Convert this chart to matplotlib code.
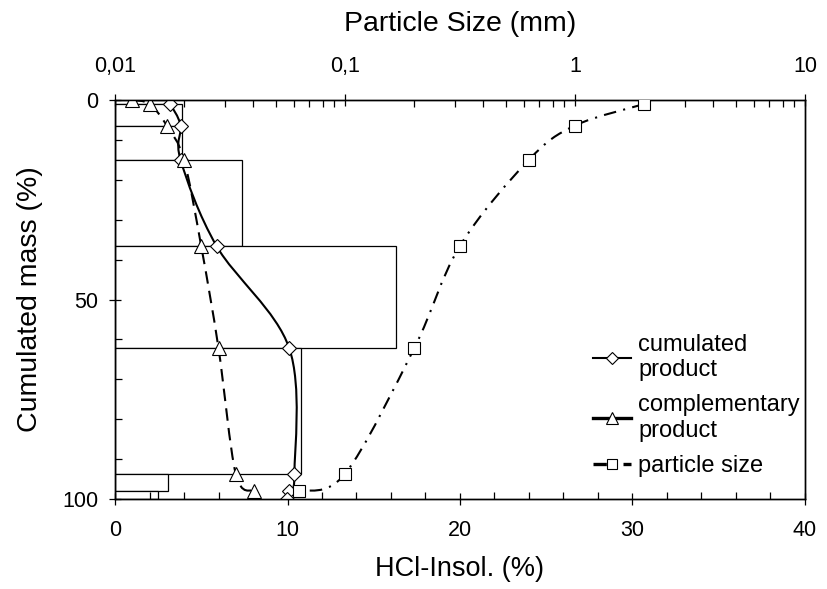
import matplotlib
matplotlib.use("Agg")
import matplotlib.pyplot as plt
import numpy as np
from matplotlib.path import Path
from matplotlib.patches import PathPatch, Rectangle
from matplotlib.lines import Line2D
from matplotlib.ticker import FixedLocator, MultipleLocator, NullFormatter

plt.rcParams['font.family'] = ['Liberation Sans', 'DejaVu Sans']

# fraction boundaries (cumulated mass, %)
bar_top = [0, 1.0, 6.4, 15.0, 36.7, 62.2, 93.7, 98.0]
bar_bottom = [1.0, 6.4, 15.0, 36.7, 62.2, 93.7, 98.0, 100]
bar_insol = [3.2, 3.9, 3.9, 7.35, 16.3, 10.8, 3.07, 2.5]

# cumulated product (diamonds)
cum_mass = [1.0, 6.4, 15.0, 36.7, 62.2, 93.7, 98.0, 100]
cum_insol = [3.2, 3.8, 3.8, 5.9, 10.1, 10.4, 10.1, 9.95]

# complementary product (triangles)
comp_mass = [0, 1.0, 6.4, 15.0, 36.7, 62.2, 93.7, 98.0]
comp_insol = [1.0, 2.0, 3.0, 4.0, 5.0, 6.0, 7.0, 8.05]

# particle size (squares, top axis)
ps_mass = [1.0, 6.4, 15.0, 36.7, 62.2, 93.7, 98.0]
ps_size = [2, 1, 0.63, 0.315, 0.2, 0.1, 0.063]


def smooth_path(x, y):
    # Catmull-Rom spline written as cubic bezier segments
    p = np.column_stack([x, y]).astype(float)
    ext = np.vstack([p[0], p, p[-1]])
    verts = [p[0]]
    codes = [Path.MOVETO]
    for i in range(len(p) - 1):
        p0, p1, p2, p3 = ext[i], ext[i + 1], ext[i + 2], ext[i + 3]
        c1 = p1 + (p2 - p0) / 6
        c2 = p2 - (p3 - p1) / 6
        verts += [c1, c2, p2]
        codes += [Path.CURVE4] * 3
    return np.array(verts), codes


fig = plt.figure(figsize=(8.28, 5.89), dpi=100)
ax = fig.add_axes([0.1389, 0.1528, 0.8333, 0.6774])

for t, b, w in zip(bar_top, bar_bottom, bar_insol):
    ax.add_patch(Rectangle((0, t), w, b - t, facecolor='white',
                           edgecolor='black', linewidth=0.9, zorder=1))

v, c = smooth_path(cum_insol, cum_mass)
ax.add_patch(PathPatch(Path(v, c), fill=False, edgecolor='black',
                       linewidth=1.5, zorder=3))
ax.plot(cum_insol, cum_mass, linestyle='none', marker='D', markersize=7.5,
        markerfacecolor='white', markeredgecolor='black',
        markeredgewidth=0.8, zorder=4)

v, c = smooth_path(comp_insol, comp_mass)
ax.add_patch(PathPatch(Path(v, c), fill=False, edgecolor='black',
                       linewidth=1.5, linestyle=(0, (6, 3.5)), zorder=3))
ax.plot(comp_insol, comp_mass, linestyle='none', marker='^', markersize=10,
        markerfacecolor='white', markeredgecolor='black',
        markeredgewidth=0.8, zorder=4)

ax.set_xlim(0, 40)
ax.set_ylim(100, 0)
ax.xaxis.set_major_locator(MultipleLocator(10))
ax.xaxis.set_minor_locator(MultipleLocator(2))
ax.yaxis.set_major_locator(MultipleLocator(50))
ax.yaxis.set_minor_locator(MultipleLocator(10))
ax.tick_params(which='major', direction='inout', length=9, width=0.9,
               labelsize=15.5)
ax.tick_params(axis='x', which='major', pad=10.5)
ax.tick_params(axis='y', which='major', pad=7.5)
ax.tick_params(which='minor', direction='in', length=5, width=0.9)
ax.tick_params(axis='y', right=False)
ax.set_xlabel('HCl-Insol. (%)', fontsize=19.5, labelpad=11)
ax.set_ylabel('Cumulated mass (%)', fontsize=20.5, labelpad=14)

ax2 = ax.twiny()
ax2.set_xscale('log')
ax2.set_xlim(0.01, 10)
ax2.set_ylim(100, 0)
lv, c = smooth_path(np.log10(ps_size), ps_mass)
lv[:, 0] = 10 ** lv[:, 0]
ax2.add_patch(PathPatch(Path(lv, c), fill=False, edgecolor='black',
                        linewidth=1.5, linestyle=(0, (6, 3.5, 1, 3.5)),
                        zorder=3))
ax2.plot(ps_size, ps_mass, linestyle='none', marker='s', markersize=9,
         markerfacecolor='white', markeredgecolor='black',
         markeredgewidth=0.8, zorder=4)
ax2.xaxis.set_major_locator(FixedLocator([0.01, 0.1, 1, 10]))
ax2.set_xticklabels(['0,01', '0,1', '1', '10'])
minors = [m * 10.0 ** e for e in (-2, -1, 0) for m in range(2, 10)]
ax2.xaxis.set_minor_locator(FixedLocator(minors))
ax2.xaxis.set_minor_formatter(NullFormatter())
ax2.tick_params(which='major', direction='inout', length=9, width=0.9,
                labelsize=15.5, pad=12)
ax2.tick_params(which='minor', direction='in', length=5, width=0.9)
ax2.set_xlabel('Particle Size (mm)', fontsize=20.5, labelpad=18)

for a in (ax, ax2):
    for s in a.spines.values():
        s.set_linewidth(1.0)

handles = [
    Line2D([], [], color='black', linewidth=1.5, marker='D', markersize=6.5,
           markerfacecolor='white', markeredgewidth=0.8),
    Line2D([], [], color='black', linewidth=2.4, marker='^', markersize=8.5,
           markerfacecolor='white', markeredgewidth=0.8),
    Line2D([], [], color='black', linewidth=2.4, linestyle=(0, (4, 2, 1, 2)),
           marker='s', markersize=7.5, markerfacecolor='white',
           markeredgewidth=0.8),
]
labels = ['cumulated\nproduct', 'complementary\nproduct', 'particle size']
ax2.legend(handles, labels, loc='lower right', bbox_to_anchor=(1.013, 0.02),
           frameon=False, fontsize=17, handlelength=1.6, handletextpad=0.3,
           labelspacing=0.55, borderaxespad=0.2)

fig.savefig('out.png', dpi=100)
